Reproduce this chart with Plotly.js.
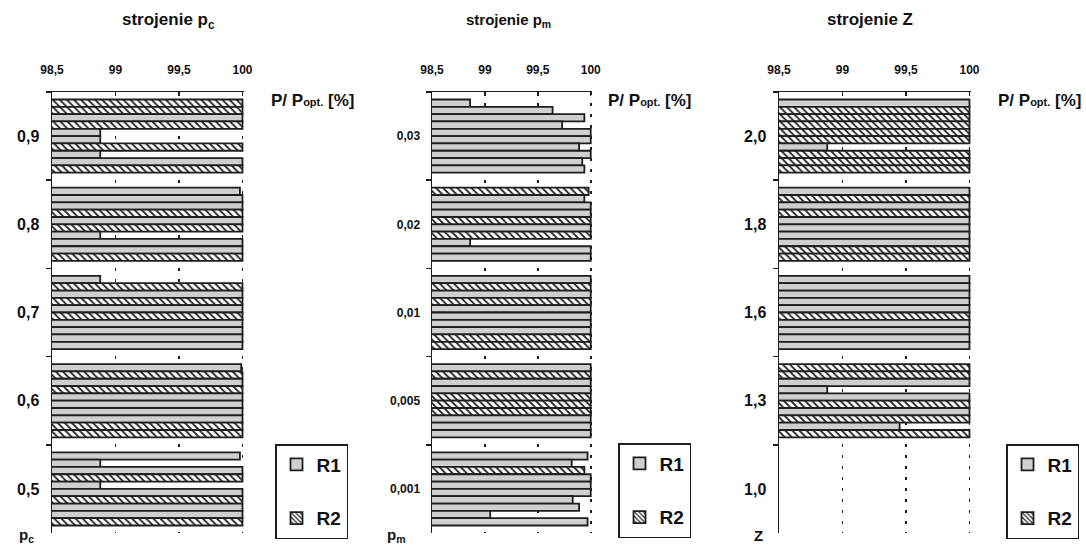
<!DOCTYPE html>
<html><head><meta charset="utf-8">
<script src="https://cdn.plot.ly/plotly-3.0.1.min.js"></script>
<style>html,body{margin:0;padding:0;background:#fff}#chart{width:1086px;height:545px}</style>
</head><body><div id="chart"></div>
<script>
// ---------------- data (read top to bottom inside each category) ----------------
const tickVals = [98.5, 99, 99.5, 100];
const tickText = ['98,5', '99', '99,5', '100'];
const seriesNames = ['R1', 'R2'];

// panel 1 : strojenie pc
const pcCats = ['0,9', '0,8', '0,7', '0,6', '0,5'];
const pc09 = [100, 100, 100, 100, 98.88, 98.88, 100, 98.88, 100, 100];
const pc09t = ['R2','R2','R1','R2','R1','R1','R2','R1','R1','R2'];
const pc08 = [99.98, 100, 100, 100, 100, 100, 98.88, 100, 100, 100];
const pc08t = ['R1','R1','R1','R2','R1','R2','R1','R1','R1','R2'];
const pc07 = [98.88, 100, 100, 100, 100, 100, 100, 100, 100, 100];
const pc07t = ['R1','R2','R1','R2','R1','R2','R1','R1','R1','R1'];
const pc06 = [99.99, 100, 100, 100, 100, 100, 100, 100, 100, 100];
const pc06t = ['R1','R2','R1','R2','R1','R1','R1','R1','R2','R2'];
const pc05 = [99.98, 98.88, 100, 100, 98.88, 100, 100, 100, 100, 100];
const pc05t = ['R1','R1','R1','R2','R1','R1','R2','R1','R1','R2'];

// panel 2 : strojenie pm
const pmCats = ['0,03', '0,02', '0,01', '0,005', '0,001'];
const pm003 = [98.86, 99.64, 99.94, 99.73, 100, 100, 99.89, 100, 99.92, 99.94];
const pm003t = ['R1','R1','R1','R1','R1','R1','R1','R1','R1','R1'];
const pm002 = [99.98, 99.94, 100, 100, 100, 100, 100, 98.86, 100, 100];
const pm002t = ['R2','R1','R1','R1','R2','R1','R2','R1','R1','R1'];
const pm001 = [100, 100, 100, 100, 100, 100, 100, 100, 100, 100];
const pm001t = ['R1','R2','R1','R2','R1','R1','R1','R1','R2','R2'];
const pm0005 = [100, 100, 100, 100, 100, 100, 100, 100, 100, 100];
const pm0005t = ['R1','R2','R1','R1','R2','R2','R2','R1','R1','R1'];
const pm0001 = [99.97, 99.82, 99.94, 100, 100, 100, 99.83, 99.89, 99.05, 99.97];
const pm0001t = ['R1','R1','R2','R1','R1','R1','R1','R1','R1','R1'];

// panel 3 : strojenie Z
const zCats = ['2,0', '1,8', '1,6', '1,3', '1,0'];
const z20 = [100, 100, 100, 100, 100, 100, 98.88, 100, 100, 100];
const z20t = ['R1','R2','R2','R2','R2','R2','R1','R2','R2','R2'];
const z18 = [100, 100, 100, 100, 100, 100, 100, 100, 100, 100];
const z18t = ['R1','R2','R1','R2','R1','R1','R1','R1','R2','R2'];
const z16 = [100, 100, 100, 100, 100, 100, 100, 100, 100, 100];
const z16t = ['R1','R1','R1','R1','R1','R2','R1','R1','R1','R1'];
const z13 = [100, 100, 100, 98.88, 100, 100, 100, 100, 99.45, 100];
const z13t = ['R2','R2','R1','R1','R1','R2','R1','R2','R1','R2'];
const z10 = [null, null, null, null, null, null, null, null, null, null];
const z10t = ['R1','R1','R1','R1','R1','R1','R1','R1','R1','R1'];

// ---------------- styling ----------------
const GRAY = '#cfcfcf';
const EDGE = '#1e1e1e';
const FONT = 'Liberation Sans, Arial, sans-serif';
const W = 1086, H = 545;
const LW = 1.8;
const HATCH = {shape: '\\', fgcolor: '#2a2a2a', bgcolor: '#ffffff', size: 5, solidity: 0.38};

function markerFor(series) {
  return series === 'R1'
    ? {color: GRAY, line: {color: EDGE, width: LW}}
    : {color: '#ffffff', line: {color: EDGE, width: LW}, pattern: HATCH};
}

function panelTraces(cats, vals, types, xa, ya) {
  const out = [];
  const n = vals[0].length;
  for (let k = 0; k < n; k++) {
    seriesNames.forEach(function (series) {
      out.push({
        type: 'bar', orientation: 'h',
        y: cats,
        x: vals.map((v, i) => types[i][k] === series ? v[k] : null),
        xaxis: xa, yaxis: ya,
        offsetgroup: 'run' + k,
        showlegend: false, hoverinfo: 'skip',
        marker: markerFor(series)
      });
    });
  }
  return out;
}

function legendTraces(leg) {
  return seriesNames.map(function (series, j) {
    const m = markerFor(series);
    if (m.pattern) m.pattern = Object.assign({}, HATCH, {size: 4});
    return {type: 'bar', orientation: 'h', x: [null], y: [null], xaxis: 'x4', yaxis: 'y4',
            name: '<b>' + series + '</b>', legend: leg, legendgroup: leg + j,
            hoverinfo: 'skip', marker: m};
  });
}

const traces = [].concat(
  panelTraces(pcCats, [pc09, pc08, pc07, pc06, pc05], [pc09t, pc08t, pc07t, pc06t, pc05t], 'x', 'y'),
  panelTraces(pmCats, [pm003, pm002, pm001, pm0005, pm0001], [pm003t, pm002t, pm001t, pm0005t, pm0001t], 'x2', 'y2'),
  panelTraces(zCats, [z20, z18, z16, z13, z10], [z20t, z18t, z16t, z13t, z10t], 'x3', 'y3'),
  legendTraces('legend'), legendTraces('legend2'), legendTraces('legend3')
);

function px(x) { return x / W; }
function py(y) { return 1 - y / H; }

const yDom = [py(533), py(92)];

function xAxis(d0, d1, anchor) {
  return {
    domain: [px(d0), px(d1)], anchor: anchor, side: 'top',
    range: [98.5, 100.012], fixedrange: true,
    tickvals: tickVals, ticktext: tickText,
    ticks: 'inside', ticklen: 4, tickwidth: 1.5, tickcolor: EDGE,
    showline: true, linecolor: EDGE, linewidth: 1.5, mirror: false,
    showgrid: true, gridcolor: EDGE, gridwidth: 1.8, griddash: '3px,8px',
    zeroline: false, ticklabelstandoff: 12,
    tickfont: {family: FONT, size: 12, color: '#111', weight: 'bold'}
  };
}
function yAxis(cats, anchor, fs) {
  return {
    domain: yDom, anchor: anchor, type: 'category',
    categoryorder: 'array', categoryarray: cats,
    autorange: 'reversed', fixedrange: true,
    ticks: 'outside', tickson: 'boundaries', ticklen: 5, tickwidth: 1.5, tickcolor: EDGE,
    showline: true, linecolor: EDGE, linewidth: 1.5,
    showgrid: false, zeroline: false, ticklabelstandoff: 8,
    tickfont: {family: FONT, size: fs, color: '#111', weight: 'bold'}
  };
}

function legendBox(x0, y0) {
  return {
    x: px(x0), y: py(y0), xanchor: 'left', yanchor: 'top',
    bgcolor: '#fff', bordercolor: EDGE, borderwidth: 1.5,
    tracegroupgap: 26, itemwidth: 30,
    font: {family: FONT, size: 19, color: '#111', weight: 'bold'}
  };
}

function ann(x, y, text, size, anchor) {
  return {xref: 'paper', yref: 'paper', x: px(x), y: py(y), text: text, showarrow: false,
          xanchor: anchor || 'center', yanchor: 'middle',
          font: {family: FONT, size: size, color: '#111', weight: 'bold'}};
}

const unit = 'P/ P<span style="font-size:11px">opt.</span> [%]';

const layout = {
  width: W, height: H,
  margin: {l: 0, r: 0, t: 0, b: 0},
  paper_bgcolor: '#fff', plot_bgcolor: 'rgba(0,0,0,0)',
  separators: ', ',
  barmode: 'group', bargap: 0.17, bargroupgap: 0,
  showlegend: true,
  xaxis: xAxis(52, 244, 'y'),
  yaxis: yAxis(pcCats, 'x', 16),
  xaxis2: xAxis(432, 592, 'y2'),
  yaxis2: yAxis(pmCats, 'x2', 12),
  xaxis3: xAxis(779, 971, 'y3'),
  yaxis3: yAxis(zCats, 'x3', 16),
  xaxis4: {domain: [0, 0.001], anchor: 'y4', visible: false},
  yaxis4: {domain: [0, 0.001], anchor: 'x4', visible: false},
  legend: legendBox(275, 444),
  legend2: legendBox(618, 443),
  legend3: legendBox(1006, 444),
  annotations: [
    ann(168, 21, 'strojenie p<sub>c</sub>', 17),
    ann(508, 21, 'strojenie p<sub>m</sub>', 15),
    ann(870, 19, 'strojenie Z', 17),
    ann(269, 100, unit, 17, 'left'),
    ann(606, 100, unit, 17, 'left'),
    ann(996, 100, unit, 17, 'left'),
    ann(26, 535, 'p<sub>c</sub>', 15),
    ann(396, 535, 'p<sub>m</sub>', 15),
    ann(758, 535, 'Z', 15)
  ]
};

Plotly.newPlot('chart', traces, layout, {staticPlot: true, displayModeBar: false});
</script>
</body></html>
